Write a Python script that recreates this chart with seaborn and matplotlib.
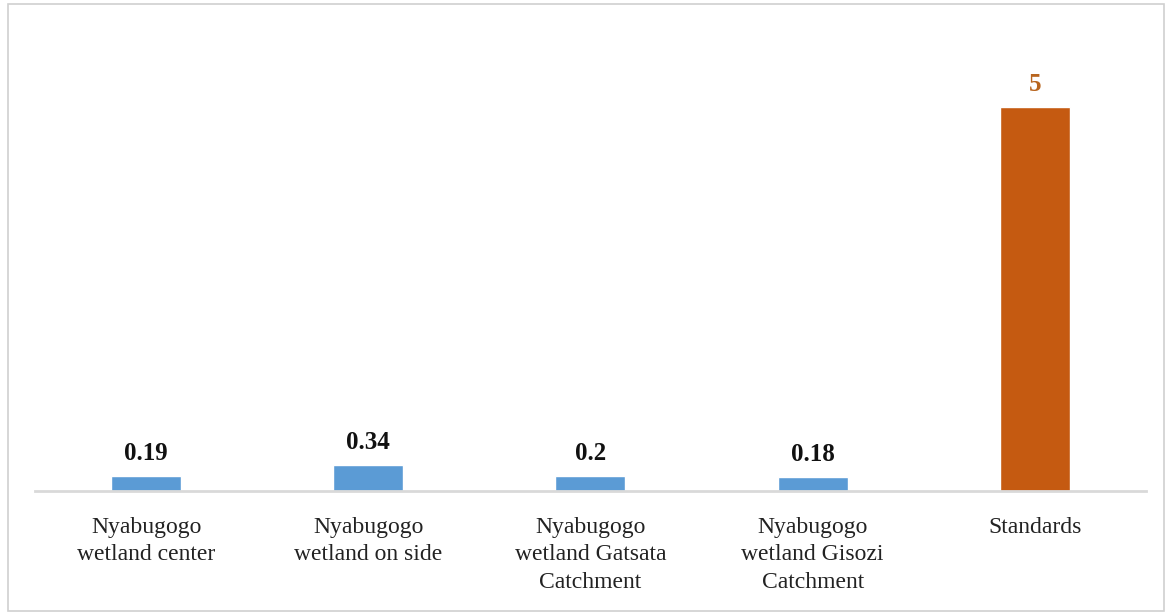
import matplotlib
matplotlib.use("Agg")
import matplotlib.pyplot as plt
import seaborn as sns
import pandas as pd
from matplotlib.patches import Rectangle

categories = ["Nyabugogo\nwetland center", "Nyabugogo\nwetland on side",
              "Nyabugogo\nwetland Gatsata\nCatchment", "Nyabugogo\nwetland Gisozi\nCatchment",
              "Standards"]
values = [0.19, 0.34, 0.2, 0.18, 5]
value_labels = ["0.19", "0.34", "0.2", "0.18", "5"]
bar_colors = ["#5B9BD5", "#5B9BD5", "#5B9BD5", "#5B9BD5", "#C55A11"]
label_colors = ["#111111", "#111111", "#111111", "#111111", "#B8651F"]

sns.set_theme(style="white")
plt.rcParams['font.family'] = ['Liberation Serif', 'DejaVu Serif']

df = pd.DataFrame({"cat": categories, "val": values})

fig = plt.figure(figsize=(11.65, 6.12), dpi=100)
ax = fig.add_axes([0.030, 0.1977, 0.9537, 0.7533])

sns.barplot(data=df, x="cat", y="val", hue="cat", palette=bar_colors,
            legend=False, width=0.315, ax=ax, saturation=1)

ax.set_xlim(-0.5, 4.5)
ax.set_ylim(0, 6)
ax.set_xlabel("")
ax.set_ylabel("")
ax.set_yticks([])
for s in ["top", "right", "left"]:
    ax.spines[s].set_visible(False)
ax.spines["bottom"].set_color("#D9D9D9")
ax.spines["bottom"].set_linewidth(2)
ax.tick_params(axis="x", length=0, pad=19, labelsize=17, colors="#222222")
for t in ax.get_xticklabels():
    t.set_linespacing(1.38)

for i, (v, lab, c) in enumerate(zip(values, value_labels, label_colors)):
    ax.annotate(lab, (i, v), xytext=(0, 8), textcoords="offset points",
                ha="center", va="bottom", fontsize=18, fontweight="bold", color=c)

fig.patches.append(Rectangle((8 / 1165, 0.002), 1 - 9.5 / 1165, 1 - 5 / 612,
                             transform=fig.transFigure, fill=False,
                             edgecolor="#D0D0D0", linewidth=1.2))

fig.savefig("out.png", dpi=100)
